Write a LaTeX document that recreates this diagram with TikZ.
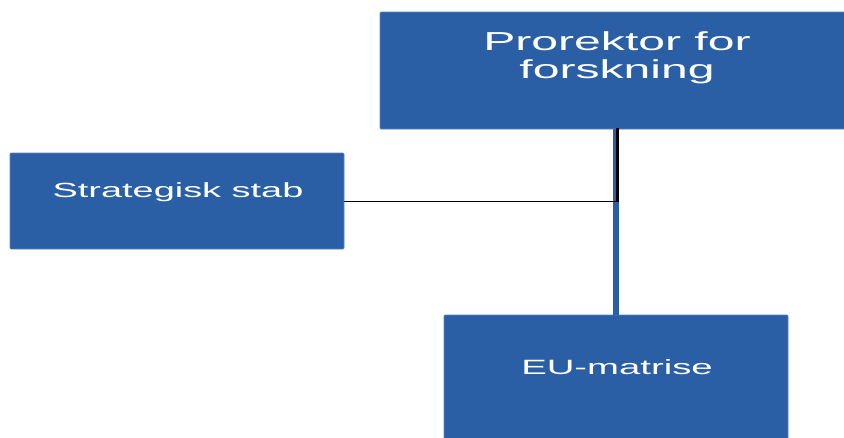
\documentclass[tikz,border=0pt]{standalone}
\usepackage{fontspec}
\newfontfamily\widefont[FakeStretch=1.85]{Liberation Sans}
\definecolor{boxblue}{RGB}{42,95,166}
\definecolor{edgeblue}{RGB}{90,130,190}
\begin{document}
\begin{tikzpicture}[x=1pt,y=-1pt,
  orgbox/.style={fill=boxblue,draw=edgeblue,line width=0.6pt,rounded corners=1pt},
  boxtext/.style={text=white,font=\widefont,align=center,inner sep=0pt}]
\useasboundingbox (0,0) rectangle (844,437);
\clip (0,0) rectangle (844,437);
% boxes
\path[orgbox] (380,12) rectangle (856,129);
\path[orgbox] (10,153) rectangle (344,249);
\path[orgbox] (444,315) rectangle (788,450);
\coordinate (topb) at (617,128);
\coordinate (botb) at (616,315);
\coordinate (leftr) at (344,201.5);
\coordinate (junc) at (617,201.5);
% texts
\node[boxtext,anchor=base,font=\widefont\fontsize{26}{28}\selectfont] (prorektor) at (617,78) {Prorektor for\\forskning};
\node[boxtext,anchor=base,font=\widefont\fontsize{20.5}{24}\selectfont] (strategisk) at (178,197) {Strategisk stab};
\node[boxtext,anchor=base,font=\widefont\fontsize{20.7}{24}\selectfont] (eu) at (617,374) {EU-matrise};
% connectors
\draw[boxblue,line width=5.5pt] (616,129) -- (botb);
\draw[black,line width=3pt] (topb) -- (junc);
\draw[black,line width=1.7pt] (leftr) -- (junc);
\end{tikzpicture}
\end{document}
